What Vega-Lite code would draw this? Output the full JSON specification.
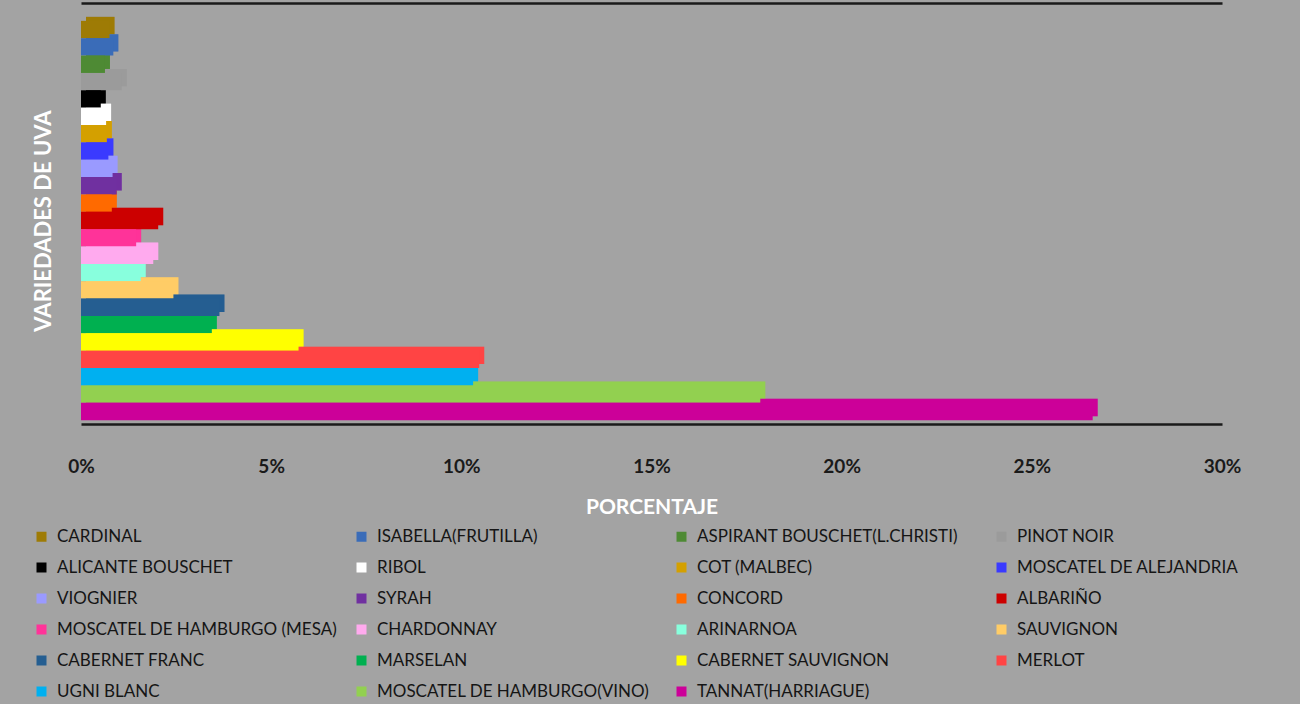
{
  "$schema": "https://vega.github.io/schema/vega-lite/v6.json",
  "autosize": {"type": "none"},
  "width": 1141,
  "height": 401,
  "padding": {"left": 81, "top": 20, "right": 78, "bottom": 283},
  "background": "#a3a3a3",
  "config": {
    "view": {"stroke": null},
    "axis": {"grid": false}
  },
  "data": {
    "values": [
      {"variedad": "CARDINAL", "pct": 0.0075},
      {"variedad": "ISABELLA(FRUTILLA)", "pct": 0.0085},
      {"variedad": "ASPIRANT BOUSCHET(L.CHRISTI)", "pct": 0.0063},
      {"variedad": "PINOT NOIR", "pct": 0.0107},
      {"variedad": "ALICANTE BOUSCHET", "pct": 0.0052},
      {"variedad": "RIBOL", "pct": 0.0066},
      {"variedad": "COT (MALBEC)", "pct": 0.0068},
      {"variedad": "MOSCATEL DE ALEJANDRIA", "pct": 0.0072},
      {"variedad": "VIOGNIER", "pct": 0.0083},
      {"variedad": "SYRAH", "pct": 0.0094},
      {"variedad": "CONCORD", "pct": 0.0081},
      {"variedad": "ALBARIÑO", "pct": 0.0203},
      {"variedad": "MOSCATEL DE HAMBURGO (MESA)", "pct": 0.0145},
      {"variedad": "CHARDONNAY", "pct": 0.019},
      {"variedad": "ARINARNOA", "pct": 0.0157},
      {"variedad": "SAUVIGNON", "pct": 0.0243},
      {"variedad": "CABERNET FRANC", "pct": 0.0364},
      {"variedad": "MARSELAN", "pct": 0.0344},
      {"variedad": "CABERNET SAUVIGNON", "pct": 0.0572},
      {"variedad": "MERLOT", "pct": 0.1047},
      {"variedad": "UGNI BLANC", "pct": 0.1031},
      {"variedad": "MOSCATEL DE HAMBURGO(VINO)", "pct": 0.1786},
      {"variedad": "TANNAT(HARRIAGUE)", "pct": 0.266}
    ]
  },
  "encoding": {
    "y": {
      "field": "variedad",
      "type": "nominal",
      "sort": null,
      "scale": {"paddingInner": 0, "paddingOuter": 0.05},
      "axis": {
        "title": "VARIEDADES DE UVA",
        "labels": false,
        "ticks": false,
        "domain": false,
        "titleFont": "Lato",
        "titleFontWeight": "bold",
        "titleFontSize": 22,
        "titleColor": "#ffffff",
        "titlePadding": 26
      }
    },
    "color": {
      "field": "variedad",
      "type": "nominal",
      "sort": null,
      "scale": {
        "domain": ["CARDINAL", "ISABELLA(FRUTILLA)", "ASPIRANT BOUSCHET(L.CHRISTI)", "PINOT NOIR", "ALICANTE BOUSCHET", "RIBOL", "COT (MALBEC)", "MOSCATEL DE ALEJANDRIA", "VIOGNIER", "SYRAH", "CONCORD", "ALBARIÑO", "MOSCATEL DE HAMBURGO (MESA)", "CHARDONNAY", "ARINARNOA", "SAUVIGNON", "CABERNET FRANC", "MARSELAN", "CABERNET SAUVIGNON", "MERLOT", "UGNI BLANC", "MOSCATEL DE HAMBURGO(VINO)", "TANNAT(HARRIAGUE)"],
        "range": ["#9e7b05", "#3a6cb8", "#4e8a34", "#9b9b9b", "#000000", "#ffffff", "#d4a000", "#3a3aff", "#9a9aff", "#7030a0", "#ff6a00", "#cc0000", "#ff3399", "#ffaaee", "#88ffdd", "#ffcc66", "#255e91", "#00b050", "#ffff00", "#ff4444", "#00b0f0", "#92d050", "#cc0099"]
      },
      "legend": {
        "title": null,
        "orient": "none",
        "legendX": -48,
        "legendY": 508,
        "direction": "horizontal",
        "columns": 4,
        "gridAlign": "all",
        "columnPadding": 15,
        "rowPadding": 13,
        "symbolType": "square",
        "symbolSize": 100,
        "symbolStrokeWidth": 0,
        "symbolOpacity": 1,
        "labelOffset": 7,
        "labelFont": "Lato",
        "labelFontSize": 17,
        "labelColor": "#151515",
        "labelLimit": 400
      }
    }
  },
  "layer": [
    {
      "mark": {"type": "bar", "xOffset": 5, "yOffset": -4},
      "encoding": {
        "x": {
          "field": "pct",
          "type": "quantitative",
          "scale": {"domain": [0, 0.3], "nice": false, "zero": true},
          "axis": {
            "orient": "bottom",
            "format": ".0%",
            "values": [0, 0.05, 0.1, 0.15, 0.2, 0.25, 0.3],
            "ticks": false,
            "domainColor": "#1a1a1a",
            "domainWidth": 2.5,
            "offset": 3,
            "labelPadding": 33,
            "labelFont": "Lato",
            "labelFontWeight": "bold",
            "labelFontSize": 19,
            "labelColor": "#1a1a1a",
            "labelFlush": false,
            "title": "PORCENTAJE",
            "titleFont": "Lato",
            "titleFontWeight": "bold",
            "titleFontSize": 21,
            "titleColor": "#ffffff",
            "titlePadding": 20
          }
        }
      }
    },
    {
      "mark": {"type": "bar", "xOffset": 5, "yOffset": -4, "color": "#000000", "opacity": 0.3},
      "encoding": {
        "x": {
          "field": "pct",
          "type": "quantitative",
          "axis": {
            "orient": "top",
            "labels": false,
            "ticks": false,
            "title": null,
            "domainColor": "#1a1a1a",
            "domainWidth": 2.5,
            "offset": 17
          }
        }
      }
    },
    {
      "mark": {"type": "bar"},
      "encoding": {
        "x": {"field": "pct", "type": "quantitative", "axis": null}
      }
    }
  ],
  "resolve": {"axis": {"x": "independent"}}
}
